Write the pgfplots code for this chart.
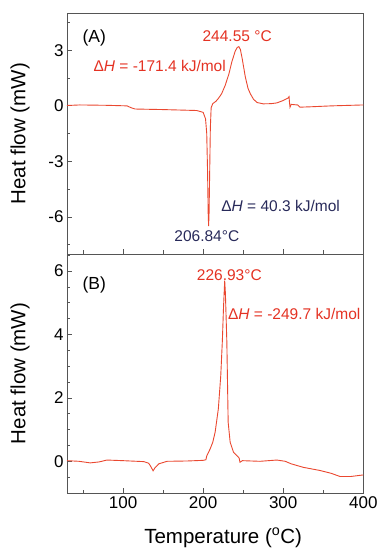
\documentclass[border=0pt]{standalone}
\usepackage{fontspec}
\setmainfont{Liberation Sans}
\usepackage{pgfplots}
\pgfplotsset{compat=1.18}
\definecolor{curve}{RGB}{234,72,48}
\definecolor{redtxt}{RGB}{228,50,35}
\definecolor{navy}{RGB}{40,42,90}
\definecolor{axisgray}{RGB}{85,85,85}
\pgfplotsset{
  mystyle/.style={
    scale only axis, width=296.3pt,
    xmin=30, xmax=400,
    xtick={100,200,300,400}, minor xtick={50,150,250,350},
    tick align=inside, tick pos=left,
    major tick length=5pt, minor tick length=3.5pt,
    axis line style={axisgray, line width=0.9pt},
    every tick/.style={axisgray, line width=0.8pt},
    tick label style={font=\fontsize{17}{20}\selectfont},
    /pgf/number format/assume math mode=true,
    label style={font=\fontsize{20.5}{24}\selectfont},
    ylabel style={at={(axis description cs:-0.1586,0.5)}, anchor=center},
    ylabel={Heat flow (mW)},
  },
}
\tikzset{ann/.style={font=\fontsize{15.5}{18}\selectfont, inner sep=0pt}}
\begin{document}
\begin{tikzpicture}
\path[use as bounding box] (-67pt,-55pt) rectangle (310pt,493pt);
% ---------- (A) ----------
\begin{axis}[mystyle, at={(0pt,239pt)}, anchor=south west, height=240.7pt,
  ymin=-8, ymax=5, ytick={-6,-3,0,3}, minor ytick={-7.5,-4.5,-1.5,1.5,4.5},
  xticklabels={}]
\addplot[curve, line width=0.9pt] coordinates {
(30,0.02) (46,0.05) (80,0.03) (105,0.0) (110,-0.1) (115,-0.17) (150,-0.2)
(192,-0.25) (200,-0.35) (203,-0.7) (204.5,-1.5) (205.5,-3.5) (206.3,-5.8)
(206.84,-6.5) (207.4,-5.8) (208.2,-3.5) (209,-1.2) (210,-0.1) (212,0.12)
(216,0.25) (219,0.4) (223,0.65) (227.5,1.1) (232,1.7) (236,2.4) (240,2.95)
(242.5,3.15) (244.55,3.2) (246.5,3.05) (249,2.5) (252.5,1.6) (256,0.95)
(259,0.65) (263,0.35) (267.5,0.18) (275,0.11) (285,0.12) (292,0.16)
(300,0.29) (306,0.42) (307.3,0.5) (307.8,0.2) (308.5,-0.07) (310,0.08)
(315,0.06) (318,0.05) (321,-0.07) (334,-0.05) (360,0.0) (400,0.05)
};
\node[ann, font=\fontsize{17.5}{20}\selectfont] at (axis cs:64.1,3.65) {(A)};
\node[ann, text=redtxt] at (axis cs:242.5,3.75) {244.55 °C};
\node[ann, text=redtxt, anchor=west] at (axis cs:62.9,2.17) {Δ\textit{H} = -171.4 kJ/mol};
\node[ann, text=navy, anchor=west] at (axis cs:222.5,-5.39) {Δ\textit{H} = 40.3 kJ/mol};
\node[ann, text=navy] at (axis cs:204.6,-7.06) {206.84°C};
\end{axis}
% ---------- (B) ----------
\begin{axis}[mystyle, at={(0pt,0pt)}, anchor=south west, height=239pt,
  ymin=-1, ymax=6.54, ytick={0,2,4,6},
  minor ytick={-0.5,0.5,1,1.5,2.5,3,3.5,4.5,5,5.5,6.5},
  xlabel={Temperature (\textsuperscript{o}C)},
  xlabel style={at={(axis description cs:0.527,0)}, anchor=center, yshift=-45pt}]
\addplot[curve, line width=0.9pt] coordinates {
(30,0.02) (45,0.0) (59,-0.05) (70,-0.02) (80,0.04) (100,0.02) (126,-0.01)
(132,-0.06) (135,-0.18) (137.5,-0.3) (140,-0.2) (144.6,-0.08) (155,0.0)
(180,0.01) (200,0.03) (203.5,0.05) (204.5,0.17) (208.75,0.39) (212,0.6)
(215,0.92) (219,1.66) (222,2.7) (224,3.8) (225.4,4.83) (226.93,5.7)
(227.8,5.3) (229.6,3.77) (231.25,1.23) (233.75,0.6) (238,0.28) (244,0.13)
(245,0.1) (246,-0.03) (249,0.02) (271,0.0) (292,0.04) (302.5,0.0)
(310,-0.08) (325,-0.19) (346,-0.29) (360,-0.38) (371,-0.48) (384,-0.48)
(400,-0.43)
};
\node[ann, font=\fontsize{17.5}{20}\selectfont] at (axis cs:64.1,5.56) {(B)};
\node[ann, text=redtxt] at (axis cs:232.7,5.88) {226.93°C};
\node[ann, text=redtxt, anchor=west] at (axis cs:230.9,4.64) {Δ\textit{H} = -249.7 kJ/mol};
\end{axis}
\end{tikzpicture}
\end{document}
